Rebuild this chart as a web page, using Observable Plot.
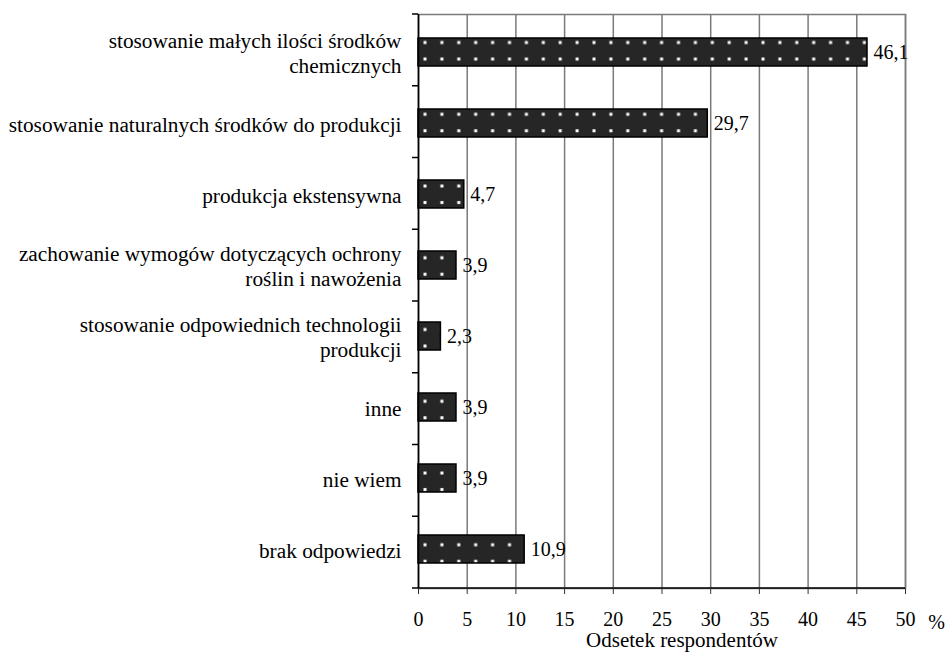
<!DOCTYPE html>
<html>
<head>
<meta charset="utf-8">
<script src="https://cdn.jsdelivr.net/npm/d3@7"></script>
<script src="https://cdn.jsdelivr.net/npm/@observablehq/plot@0.6"></script>
<style>
  html, body { margin: 0; padding: 0; background: #fff; }
  #chart svg { display: block; font-family: "Liberation Serif", serif; }
  #chart svg text { font-family: "Liberation Serif", serif !important; }
</style>
</head>
<body>
<div id="chart"></div>
<script>
const categories = [
  "stosowanie małych ilości środków\nchemicznych",
  "stosowanie naturalnych środków do produkcji",
  "produkcja ekstensywna",
  "zachowanie wymogów dotyczących ochrony\nroślin i nawożenia",
  "stosowanie odpowiednich technologii\nprodukcji",
  "inne",
  "nie wiem",
  "brak odpowiedzi"
];
const values = [46.1, 29.7, 4.7, 3.9, 2.3, 3.9, 3.9, 10.9];
const xTicks = [0, 5, 10, 15, 20, 25, 30, 35, 40, 45, 50];
const xLabel = "Odsetek respondentów";
const unitLabel = "%";

const data = categories.map((c, i) => ({category: c, value: values[i]}));
const fmt = d => d.toFixed(1).replace(".", ",");
const SVGNS = "http://www.w3.org/2000/svg";
const FONT = "Liberation Serif";

const W = 947, H = 655;
const mLeft = 418, mRight = 42, mTop = 14, mBottom = 67;
const padIn = 0.6, padOut = 0.3;

// pattern defs (dotted bar fill), aligned to the band layout
function patternMark(index, scales, values, dims) {
  const g = document.createElementNS(SVGNS, "g");
  const defs = document.createElementNS(SVGNS, "defs");
  const fh = dims.height - dims.marginTop - dims.marginBottom;
  const step = fh / categories.length;
  const p = document.createElementNS(SVGNS, "pattern");
  p.setAttribute("id", "dots");
  p.setAttribute("patternUnits", "userSpaceOnUse");
  p.setAttribute("x", dims.marginLeft + 1);
  p.setAttribute("y", dims.marginTop + padOut * step);
  p.setAttribute("width", 16.9);
  p.setAttribute("height", step);
  const bg = document.createElementNS(SVGNS, "rect");
  bg.setAttribute("width", 16.9); bg.setAttribute("height", step); bg.setAttribute("fill", "#262626");
  p.appendChild(bg);
  for (const dy of [7, 23.5]) {
    const r = document.createElementNS(SVGNS, "rect");
    r.setAttribute("x", 6 - 1.5); r.setAttribute("y", dy - 1.5);
    r.setAttribute("width", 3); r.setAttribute("height", 3);
    r.setAttribute("fill", "#ffffff");
    p.appendChild(r);
  }
  defs.appendChild(p);
  g.appendChild(defs);
  return g;
}

// bottom axis line and category separator ticks
function axisLines(index, scales, values, dims) {
  const g = document.createElementNS(SVGNS, "g");
  const x0 = dims.marginLeft, x1 = dims.width - dims.marginRight;
  const y0 = dims.marginTop, y1 = dims.height - dims.marginBottom;
  const step = (y1 - y0) / categories.length;
  const line = (a, b, c, d) => {
    const l = document.createElementNS(SVGNS, "line");
    l.setAttribute("x1", a); l.setAttribute("y1", b);
    l.setAttribute("x2", c); l.setAttribute("y2", d);
    l.setAttribute("stroke", "#000"); l.setAttribute("stroke-width", 1.5);
    g.appendChild(l);
  };
  line(x0 - 6, y1, x1, y1);
  for (let k = 0; k < categories.length; k++) line(x0 - 6, y0 + k * step, x0, y0 + k * step);
  return g;
}

const chart = Plot.plot({
  width: W,
  height: H,
  marginLeft: mLeft,
  marginRight: mRight,
  marginTop: mTop,
  marginBottom: mBottom,
  style: {fontFamily: FONT, fontSize: "20px", color: "#000", background: "#fff"},
  x: {domain: [0, 50], axis: null, label: null},
  y: {domain: categories, axis: null, paddingInner: padIn, paddingOuter: padOut, align: 0.5},
  marks: [
    patternMark,
    Plot.gridX(xTicks, {stroke: "#7a7a7a", strokeOpacity: 1, strokeWidth: 1.5}),
    Plot.frame({stroke: "#7a7a7a", strokeWidth: 1.5}),
    Plot.barX(data, {x: "value", y: "category", fill: "url(#dots)", stroke: "#000", strokeWidth: 1.5}),
    Plot.ruleX([0], {stroke: "#000", strokeWidth: 1.5}),
    axisLines,
    Plot.axisX(xTicks, {tickSize: 6, tickPadding: 17, fontSize: 20, fontFamily: FONT, stroke: "#333", tickFormat: d => String(d), label: null}),
    Plot.text(data, {x: 0, y: "category", text: "category", dx: -17, textAnchor: "end", lineHeight: 1.2, fontSize: 21.3, fontFamily: FONT}),
    Plot.text(data, {x: "value", y: "category", text: d => fmt(d.value), dx: 6, textAnchor: "start", fontSize: 20, fontFamily: FONT}),
    Plot.text([xTicks[xTicks.length - 1]], {x: d => d, text: () => unitLabel, frameAnchor: "bottom", lineAnchor: "middle", dx: 31, dy: 34, fontSize: 20, fontFamily: FONT}),
    Plot.text([xLabel], {frameAnchor: "bottom", lineAnchor: "middle", text: d => d, dx: 20, dy: 52, fontSize: 21, fontFamily: FONT})
  ]
});
document.getElementById("chart").appendChild(chart);
</script>
</body>
</html>
